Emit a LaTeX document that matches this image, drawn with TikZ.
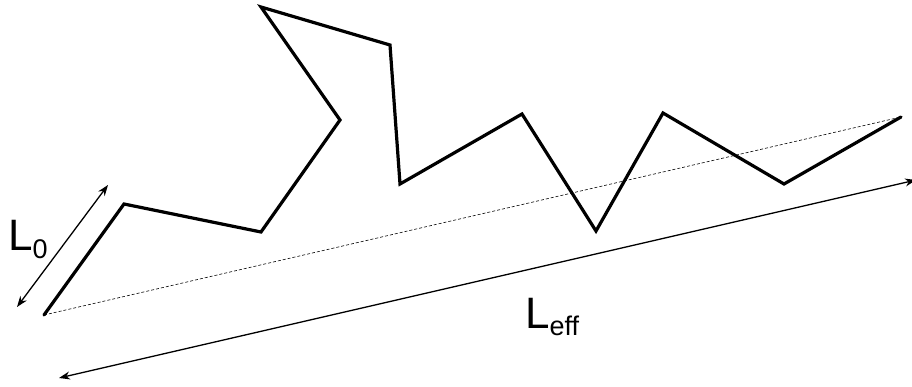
\documentclass[tikz,border=0pt]{standalone}
\usepackage{fontspec}
\setmainfont{Liberation Sans}
\usetikzlibrary{arrows.meta}
\begin{document}
\begin{tikzpicture}[x=1pt,y=-1pt,
  chain/.style={line width=3.2pt,line join=miter,line cap=round},
  dim/.style={line width=1.3pt,{Stealth[length=11pt,width=8pt]}-{Stealth[length=11pt,width=8pt]}},
  guide/.style={line width=0.6pt,dash pattern=on 3pt off 2pt},
  lab/.style={inner sep=0pt,anchor=base west,font=\fontsize{44}{48}\selectfont}]
\useasboundingbox (0,0) rectangle (912,387);
\coordinate (p0) at (44,315);
\coordinate (p1) at (124,204);
\coordinate (p2) at (261,232);
\coordinate (p3) at (340,120);
\coordinate (p4) at (261,7);
\coordinate (p5) at (390,45);
\coordinate (p6) at (400,184);
\coordinate (p7) at (522,114);
\coordinate (p8) at (596,231);
\coordinate (p9) at (663,113);
\coordinate (p10) at (784,184);
\coordinate (p11) at (901,117);
\draw[guide] (p0) -- (p11);
\draw[chain] (p0) -- (p1) -- (p2) -- (p3) -- (p4) -- (p5) -- (p6) -- (p7) -- (p8) -- (p9) -- (p10) -- (p11);
\coordinate (a0) at (17,307);
\coordinate (a1) at (108,185);
\draw[dim] (a0) -- (a1);
\coordinate (b0) at (59,378);
\coordinate (b1) at (916,180);
\draw[dim] (b0) -- (b1);
\node[lab] (l0) at (8,251) {L\raisebox{-0.18em}{\fontsize{27}{29}\selectfont 0}};
\node[lab] (leff) at (525,328) {L\raisebox{-0.18em}{\fontsize{27}{29}\selectfont eff}};
\end{tikzpicture}
\end{document}
